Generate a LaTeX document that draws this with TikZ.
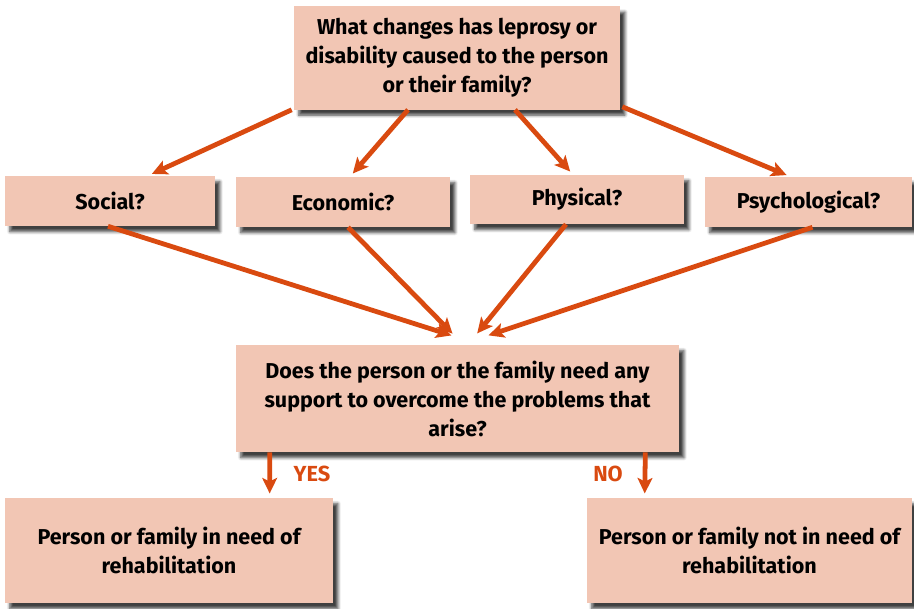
\documentclass[tikz,border=0pt]{standalone}
\usepackage{fontspec}
\setmainfont{Fira Sans}
\usepackage{tikz}
\usetikzlibrary{positioning, arrows.meta, shadows, shadows.blur}
\definecolor{boxfill}{RGB}{242,198,180}
\definecolor{arrorange}{RGB}{217,74,16}
\newlength{\pix}
\setlength{\pix}{0.025cm}
\tikzset {
    x=0.025cm, y=-0.025cm,
    question/.style={rectangle, fill=boxfill, align=center, inner sep=2pt,
        font=\bfseries\fontsize{15.3}{20.6}\selectfont,
        blur shadow={shadow xshift=3.5pt, shadow yshift=-4pt, shadow blur steps=6, shadow opacity=75}},
    arr/.style={draw=arrorange, line width=3.4pt, shorten >=3pt,
        -{Stealth[length=11pt, width=10.5pt, inset=2.5pt]}},
    answer/.style={text=arrorange, font=\bfseries\fontsize{15.5}{19}\selectfont}
}

\begin{document}
\begin{tikzpicture}
    \useasboundingbox (0,0) rectangle (914,609);

    % questions
    \node[question, minimum width=8.15cm, minimum height=2.575cm] (q) at (457,58)
        {What changes has leprosy or\\disability caused to the person\\or their family?};
    \node[question, minimum width=5.25cm, minimum height=1.25cm] (soc) at (110,201) {Social?};
    \node[question, minimum width=5.35cm, minimum height=1.25cm] (eco) at (343,202) {Economic?};
    \node[question, minimum width=5.35cm, minimum height=1.225cm] (phy) at (577,199.5) {Physical?};
    \node[question, minimum width=5.175cm, minimum height=1.25cm] (psy) at (808.5,202) {Psychological?};
    \node[question, minimum width=11.075cm, minimum height=2.675cm] (need) at (457.5,398.5)
        {Does the person or the family need any\\support to overcome the problems that\\arise?};

    % outcomes
    \node[question, minimum width=8.2cm, minimum height=2.625cm] (yes) at (169,550.5)
        {Person or family in need of\\rehabilitation};
    \node[question, minimum width=8.125cm, minimum height=2.625cm] (no) at (749.5,550.5)
        {Person or family not in need of\\rehabilitation};

    % arrows
    \draw[arr] ([xshift=-2*\pix]q.south west) -- ([xshift=38*\pix]soc.north);
    \draw[arr] ([xshift=-49*\pix]q.south) -- ([xshift=7*\pix]eco.north);
    \draw[arr] ([xshift=58*\pix]q.south) -- ([xshift=-4*\pix]phy.north);
    \draw[arr] ([xshift=2*\pix,yshift=3*\pix]q.south east) -- ([xshift=-18*\pix]psy.north);

    \draw[arr] ([xshift=-2*\pix]soc.south) -- ([xshift=-2*\pix,yshift=8*\pix]need.north);
    \draw[arr] ([xshift=5*\pix]eco.south) -- ([xshift=-2*\pix,yshift=8*\pix]need.north);
    \draw[arr] ([xshift=-11*\pix]phy.south) -- ([xshift=17*\pix,yshift=8*\pix]need.north);
    \draw[arr] ([xshift=4*\pix]psy.south) -- ([xshift=27*\pix,yshift=8*\pix]need.north);

    \draw[arr] ([xshift=34*\pix]need.south west) -- ([xshift=265*\pix]yes.north west);
    \draw[arr] ([xshift=-34*\pix]need.south east) -- ([xshift=58*\pix]no.north west);

    \node[answer] (lyes) at (312,474) {YES};
    \node[answer] (lno) at (608,474) {NO};
\end{tikzpicture}
\end{document}
